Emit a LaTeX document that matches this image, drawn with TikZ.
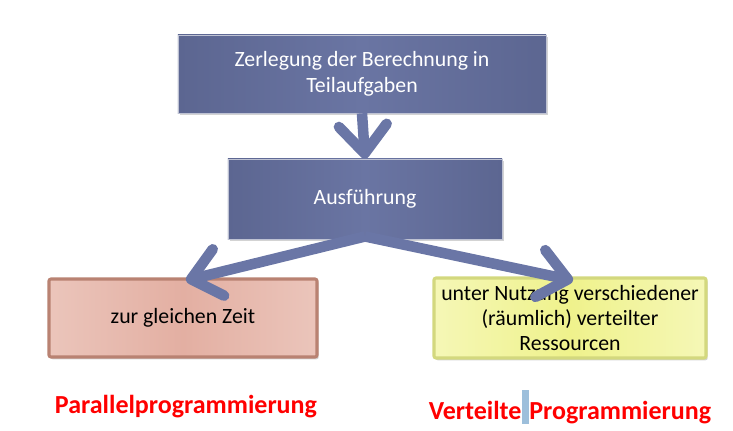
\documentclass[tikz,border=0pt]{standalone}
\usepackage{fontspec}
\setmainfont{Carlito}
\usetikzlibrary{arrows.meta,positioning,shadows}
\definecolor{taskdark}{HTML}{5C6691}
\definecolor{tasklight}{HTML}{6A75A3}
\definecolor{flowblue}{HTML}{6A76A6}
\definecolor{pinkfill}{HTML}{E3AFA2}
\definecolor{pinklight}{HTML}{EBC5BB}
\definecolor{pinkedge}{HTML}{B98272}
\definecolor{yellowfill}{HTML}{EFF28C}
\definecolor{yellowlight}{HTML}{F5F7B6}
\definecolor{yellowedge}{HTML}{D3D87E}
\definecolor{selblue}{HTML}{9DBFDB}
\tikzset{
  task/.style={rectangle, draw=white!60!taskdark, thin, left color=taskdark, right color=taskdark, middle color=tasklight, text=white, align=center, font=\fontsize{15.5}{18.4}\selectfont, drop shadow={opacity=0.35, shadow xshift=1.2pt, shadow yshift=-1.6pt}},
  sametime/.style={rectangle, rounded corners=1.5pt, draw=pinkedge, line width=2.2pt, left color=pinklight, right color=pinklight, middle color=pinkfill, text=black, align=center, font=\fontsize{15.5}{18.4}\selectfont, drop shadow={opacity=0.35, shadow xshift=1.2pt, shadow yshift=-1.6pt}},
  spread/.style={rectangle, rounded corners=1.5pt, draw=yellowedge, line width=2.2pt, left color=yellowlight, right color=yellowlight, middle color=yellowfill, text=black, align=center, inner sep=1pt, font=\fontsize{15.5}{18}\selectfont, drop shadow={opacity=0.35, shadow xshift=1.2pt, shadow yshift=-1.6pt}},
  paradigm/.style={text=red, font=\fontsize{18.5}{20}\selectfont\bfseries},
  flow/.style={draw=flowblue, line width=7.5pt, -{Straight Barb[length=20pt, width=34pt, round]}}
}

\begin{document}
\begin{tikzpicture}[x=0.025cm, y=-0.025cm]
  \useasboundingbox (0,0) rectangle (733,431);
  \node[task, minimum width=9.2cm, minimum height=1.95cm] (split) at (362,74) {Zerlegung der Berechnung in\\Teilaufgaben};
  \node[task, minimum width=6.85cm, minimum height=2cm] (run) at (365,199) {Ausführung};
  \node[sametime, minimum width=6.7cm, minimum height=1.95cm] (same) at (183,318) {zur gleichen Zeit};
  \node[spread, minimum width=6.8cm, minimum height=2cm] (res) at (570,318) {unter Nutzung verschiedener\\(räumlich) verteilter\\Ressourcen};
  \draw[flow] (split.south) -- (run.north);
  \draw[flow] ([yshift=2pt]run.south) -- ([shift={(3,3)}]same.north);
  \draw[flow] ([yshift=2pt]run.south) -- ([shift={(3,4)}]res.north);
  \node[paradigm] (par) at (186,407) {Parallelprogrammierung};
  \node[paradigm] (dist) at (par -| res) {Verteilte\textcolor{selblue}{\rule[-0.3ex]{0.3em}{2.7ex}}Programmierung};
\end{tikzpicture}
\end{document}
